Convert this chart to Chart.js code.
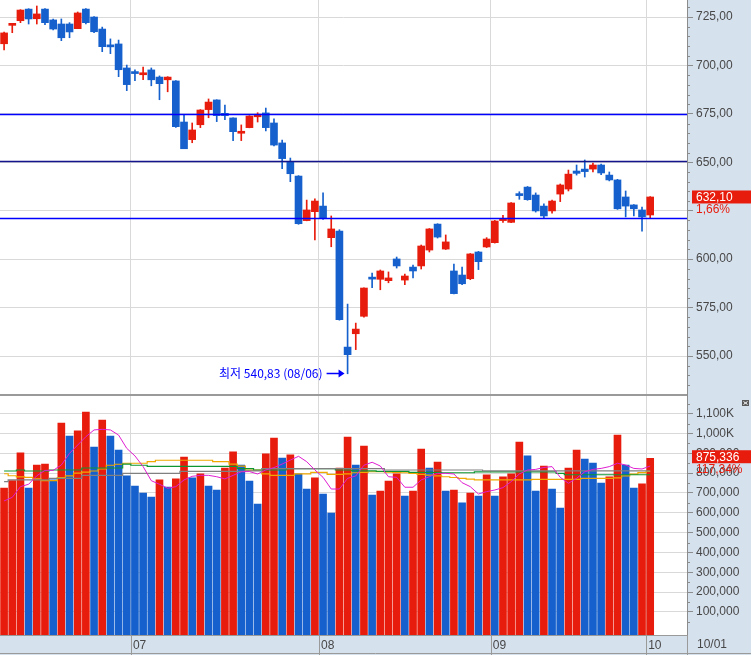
<!DOCTYPE html>
<html>
<head>
<meta charset="utf-8">
<script src="https://cdn.jsdelivr.net/npm/chart.js@4.4.1/dist/chart.umd.min.js"></script>
<style>
  html, body { margin: 0; padding: 0; background: #fff; }
  #wrap { position: relative; width: 751px; height: 655px; overflow: hidden; }
  #priceBox { position: absolute; left: 0; top: 0; width: 751px; height: 396px; }
  #volBox { position: absolute; left: 0; top: 396px; width: 751px; height: 259px; }
  canvas { display: block; }
</style>
</head>
<body>
<div id="wrap">
  <div id="priceBox"><canvas id="priceChart" width="751" height="396"></canvas></div>
  <div id="volBox"><canvas id="volChart" width="751" height="259"></canvas></div>
</div>
<script>
// daily candles, 2019-06-07 .. 2019-10-01
const dates = [
  '06/07','06/10','06/11','06/12','06/13','06/14','06/17','06/18','06/19','06/20','06/21','06/24','06/25','06/26','06/27','06/28',
  '07/01','07/02','07/03','07/04','07/05','07/08','07/09','07/10','07/11','07/12','07/15','07/16','07/17','07/18','07/19',
  '07/22','07/23','07/24','07/25','07/26','07/29','07/30','07/31',
  '08/01','08/02','08/05','08/06','08/07','08/08','08/09','08/12','08/13','08/14','08/16','08/19','08/20','08/21','08/22','08/23',
  '08/26','08/27','08/28','08/29','08/30',
  '09/02','09/03','09/04','09/05','09/06','09/09','09/10','09/11','09/16','09/17','09/18','09/19','09/20','09/23','09/24','09/25',
  '09/26','09/27','09/30',
  '10/01'
];
const opens = [
  711.2, 720.7, 723.1, 729.1, 724.1, 729.1, 723.5, 721.4, 721.4, 719.0,
  729.1, 725.0, 718.8, 710.1, 711.1, 698.7, 696.2, 695.2, 697.7, 694.0,
  692.6, 692.0, 670.8, 661.7, 669.4, 677.2, 682.2, 675.3, 672.9, 665.0,
  667.9, 673.5, 675.5, 670.3, 660.0, 650.5, 642.9, 619.9, 624.5, 627.4,
  611.1, 614.5, 554.6, 561.5, 570.5, 589.9, 589.6, 588.9, 600.1, 589.2,
  595.9, 596.5, 604.7, 618.1, 605.2, 593.9, 591.8, 589.9, 603.7, 606.3,
  608.5, 619.9, 619.0, 633.1, 637.2, 633.1, 627.4, 624.9, 633.6, 636.2,
  645.5, 646.5, 646.5, 648.6, 643.4, 640.9, 632.1, 628.0, 625.4, 622.8
];
const highs = [
  717.2, 721.4, 728.8, 729.3, 730.7, 729.3, 724.0, 724.0, 722.1, 727.6,
  729.3, 725.2, 719.8, 713.7, 713.1, 700.2, 697.7, 699.2, 698.7, 694.6,
  694.2, 692.2, 674.8, 670.3, 677.2, 682.7, 682.3, 679.6, 673.0, 669.3,
  674.1, 675.6, 678.0, 672.4, 661.5, 652.2, 643.1, 630.5, 631.1, 634.3,
  622.3, 615.2, 576.8, 567.0, 585.2, 592.8, 594.4, 593.4, 601.1, 592.3,
  597.0, 607.3, 615.8, 618.3, 612.5, 597.5, 595.9, 602.9, 604.0, 611.1,
  620.0, 622.6, 629.2, 634.8, 637.5, 634.2, 628.5, 630.5, 638.8, 646.0,
  648.6, 651.2, 649.6, 649.1, 645.0, 641.2, 635.2, 628.2, 626.9, 632.3
];
const lows = [
  708.0, 716.9, 722.1, 721.4, 721.4, 721.0, 718.3, 712.8, 714.3, 719.0,
  721.4, 716.9, 707.1, 706.1, 694.2, 687.0, 692.1, 692.6, 689.5, 682.3,
  686.4, 668.0, 657.0, 660.1, 667.9, 673.0, 671.0, 672.0, 661.2, 661.2,
  667.8, 670.8, 666.2, 658.4, 646.7, 640.0, 618.0, 619.8, 609.9, 620.5,
  606.4, 568.5, 540.83, 553.3, 570.1, 585.3, 584.2, 587.8, 595.4, 586.8,
  590.3, 594.9, 603.7, 610.9, 605.0, 582.0, 586.8, 589.4, 594.6, 606.0,
  608.3, 619.0, 618.8, 630.9, 630.4, 624.3, 621.2, 623.8, 629.7, 635.2,
  643.4, 642.4, 645.0, 643.6, 640.4, 625.7, 621.8, 622.3, 614.5, 621.2
];
const closes = [
  716.8, 721.0, 728.6, 724.0, 726.6, 722.1, 718.8, 714.3, 717.3, 727.1,
  722.1, 717.4, 709.7, 709.6, 697.8, 690.1, 695.8, 696.1, 692.6, 690.6,
  694.0, 668.4, 657.0, 666.7, 677.0, 681.1, 674.1, 674.1, 665.8, 665.2,
  673.9, 674.8, 667.9, 658.9, 651.9, 644.1, 618.3, 625.4, 630.0, 621.1,
  615.6, 568.7, 550.7, 563.9, 585.1, 589.7, 593.9, 590.3, 596.5, 591.3,
  593.9, 606.8, 615.6, 611.4, 608.9, 582.2, 587.3, 602.7, 598.7, 610.4,
  619.7, 620.1, 629.0, 632.8, 630.7, 624.9, 622.3, 630.0, 638.3, 643.9,
  644.3, 645.2, 648.6, 644.5, 640.9, 626.0, 627.4, 626.0, 621.78, 632.10
];
const volumes = [
  725000, 762000, 902000, 725000, 841000, 846000, 766000, 1053000, 987000, 1013000,
  1108000, 932000, 1068000, 987000, 917000, 786000, 735000, 700000, 680000, 766000,
  730000, 771000, 881000, 776000, 796000, 735000, 715000, 826000, 907000, 841000,
  760000, 644000, 897000, 977000, 876000, 892000, 796000, 720000, 776000, 695000,
  599000, 826000, 982000, 841000, 937000, 690000, 710000, 760000, 796000, 685000,
  710000, 922000, 826000, 856000, 710000, 715000, 650000, 700000, 685000, 791000,
  685000, 781000, 796000, 957000, 887000, 710000, 836000, 720000, 624000, 826000,
  917000, 871000, 851000, 750000, 781000, 992000, 841000, 725000, 746000, 875336
];
// volume moving averages as drawn
const volMa5 = [
  660000, 678000, 732000, 744000, 787000, 814000, 814000, 841000, 900000, 942000,
  984000, 1018000, 1021000, 1018000, 992000, 925000, 887000, 833000, 762000, 744000,
  724000, 732000, 766000, 784000, 789000, 789000, 782000, 771000, 789000, 807000,
  808000, 796000, 816000, 828000, 846000, 866000, 885000, 858000, 816000, 779000,
  720000, 720000, 774000, 786000, 840000, 855000, 836000, 782000, 779000, 729000,
  729000, 766000, 782000, 799000, 799000, 796000, 752000, 732000, 695000, 707000,
  715000, 727000, 757000, 796000, 816000, 819000, 829000, 833000, 779000, 749000,
  774000, 807000, 819000, 824000, 833000, 850000, 841000, 824000, 821000, 836000
];
const volMa20 = [
  797000, 787000, 781000, 779000, 771000, 762000, 762000, 778000, 786000, 800000,
  805000, 811000, 821000, 840000, 845000, 850000, 850000, 850000, 858000, 865000,
  865000, 865000, 865000, 865000, 865000, 865000, 858000, 858000, 846000, 835000,
  815000, 815000, 796000, 789000, 789000, 789000, 796000, 796000, 804000, 804000,
  794000, 794000, 796000, 802000, 804000, 807000, 807000, 805000, 804000, 802000,
  799000, 794000, 790000, 786000, 782000, 778000, 774000, 770000, 766000, 766000,
  766000, 766000, 766000, 766000, 766000, 769000, 769000, 769000, 769000, 769000,
  769000, 774000, 774000, 774000, 774000, 776000, 786000, 795000, 803000, 809000
];
const volMa60 = [
  811000, 811000, 816000, 811000, 811000, 811000, 816000, 816000, 816000, 816000,
  826000, 826000, 826000, 826000, 826000, 846000, 840000, 840000, 834000, 834000,
  834000, 834000, 834000, 834000, 834000, 834000, 834000, 834000, 834000, 823000,
  823000, 816000, 816000, 816000, 816000, 823000, 823000, 823000, 823000, 823000,
  823000, 816000, 816000, 812000, 812000, 812000, 809000, 809000, 809000, 809000,
  804000, 804000, 804000, 804000, 802000, 802000, 802000, 802000, 806000, 806000,
  806000, 806000, 806000, 806000, 806000, 806000, 806000, 806000, 799000, 792000,
  792000, 792000, 792000, 792000, 792000, 792000, 792000, 792000, 792000, 792000
];
const volMa120 = [
  757000, 766000, 766000, 766000, 766000, 766000, 774000, 774000, 774000, 774000,
  789000, 789000, 789000, 789000, 789000, 799000, 799000, 799000, 799000, 799000,
  799000, 799000, 809000, 809000, 809000, 809000, 809000, 809000, 809000, 809000,
  812000, 812000, 823000, 823000, 823000, 823000, 823000, 823000, 823000, 823000,
  823000, 823000, 823000, 823000, 823000, 823000, 823000, 816000, 816000, 816000,
  816000, 816000, 816000, 816000, 816000, 816000, 816000, 816000, 816000, 812000,
  812000, 812000, 812000, 812000, 812000, 812000, 812000, 812000, 812000, 812000,
  812000, 812000, 812000, 812000, 812000, 812000, 812000, 812000, 812000, 812000
];
// user drawn horizontal lines
const trendLevels = [674.8, 650.5, 621.1];
// axis ticks
const priceTicks = [550, 575, 600, 625, 650, 675, 700, 725];
const priceMinorTicks = [535, 540, 545, 555, 560, 565, 570, 580, 585, 590, 595, 605, 610, 615, 620,
  630, 635, 640, 645, 655, 660, 665, 670, 680, 685, 690, 695, 705, 710, 715, 720, 730];
const volTicks = [100000, 200000, 300000, 400000, 500000, 600000, 700000, 800000, 900000, 1000000, 1100000];
const volMinorTicks = [50000, 150000, 250000, 350000, 450000, 550000, 650000, 750000, 850000, 950000, 1050000, 1150000];

const RED = '#e81c0c';
const BLUE = '#1560cc';
const PANEL_BG = '#d6e1ee';
const GRID = '#d9d9d9';
const AXIS = '#8c8c8c';
const TEXT = '#474747';
const CLEAR = 'rgba(0,0,0,0)';
const AXIS_FONT = '"Liberation Sans", Arial, sans-serif';
const KR_FONT = '"Noto Sans CJK KR", "Noto Sans", sans-serif';
const trendColors = ['#0000ff', '#14148c', '#0000ff'];

const PRICE_MIN = 529.87;
const PRICE_MAX = 733.79;
const VOL_MIN = -16137;
const VOL_MAX = 1189107;

const slots = dates.concat(['', '', '', '']);
const candleColors = opens.map((o, i) => (closes[i] >= opens[i] ? RED : BLUE));
const volColors = volumes.map((v, i) => (i === 0 || v >= volumes[i - 1] ? RED : BLUE));

function monthStart(i) {
  return i > 0 && i < dates.length && dates[i].slice(0, 2) !== dates[i - 1].slice(0, 2);
}
function comma(v, d) {
  return Number(v).toFixed(d).replace('.', ',');
}
function volLabel(v) {
  if (v >= 1000000) return (v / 1000).toLocaleString('en-US') + 'K';
  return v.toLocaleString('en-US');
}
function monthLineX(xs, i) {
  return (xs.getPixelForValue(i - 1) + xs.getPixelForValue(i)) / 2;
}
function fixAxis(s) {
  s.width = 64;
  s.paddingTop = 0;
  s.paddingBottom = 0;
}
function drawMinorTicks(ctx, a, scale, values) {
  ctx.strokeStyle = AXIS;
  ctx.lineWidth = 1;
  values.forEach((v) => {
    const py = Math.round(scale.getPixelForValue(v)) + 0.5;
    ctx.beginPath();
    ctx.moveTo(a.right, py);
    ctx.lineTo(a.right + 3, py);
    ctx.stroke();
  });
}
function drawLastValue(ctx, a, width, py, main, sub) {
  ctx.fillStyle = RED;
  ctx.fillRect(a.right + 5, py - 6.5, width - a.right - 5, 13);
  ctx.font = '12px ' + AXIS_FONT;
  ctx.textAlign = 'left';
  ctx.textBaseline = 'middle';
  ctx.fillStyle = '#fff';
  ctx.fillText(main, a.right + 9, py + 0.5);
  ctx.fillStyle = RED;
  ctx.fillText(sub, a.right + 9, py + 13);
}

const pricePanel = {
  id: 'pricePanel',
  beforeDraw(chart) {
    const { ctx, chartArea: a, width, height } = chart;
    ctx.save();
    ctx.fillStyle = '#fff';
    ctx.fillRect(0, 0, width, height);
    ctx.fillStyle = PANEL_BG;
    ctx.fillRect(a.right, 0, width - a.right, height);
    ctx.restore();
  },
  afterDatasetsDraw(chart) {
    const { ctx, chartArea: a, scales: { x, y } } = chart;
    ctx.save();
    trendLevels.forEach((lv, k) => {
      const py = Math.round(y.getPixelForValue(lv)) + 0.5;
      ctx.strokeStyle = trendColors[k];
      ctx.lineWidth = 1.3;
      ctx.beginPath();
      ctx.moveTo(a.left, py);
      ctx.lineTo(a.right, py);
      ctx.stroke();
    });

    // lowest price marker
    let lowIdx = 0;
    lows.forEach((l, i) => { if (l < lows[lowIdx]) lowIdx = i; });
    const lx = x.getPixelForValue(lowIdx);
    const ly = Math.round(y.getPixelForValue(lows[lowIdx])) - 0.5;
    ctx.strokeStyle = '#0000ff';
    ctx.fillStyle = '#0000ff';
    ctx.lineWidth = 1.5;
    ctx.beginPath();
    ctx.moveTo(lx - 21, ly);
    ctx.lineTo(lx - 8, ly);
    ctx.stroke();
    ctx.beginPath();
    ctx.moveTo(lx - 3, ly);
    ctx.lineTo(lx - 9, ly - 4);
    ctx.lineTo(lx - 9, ly + 4);
    ctx.closePath();
    ctx.fill();
    ctx.font = '12px ' + KR_FONT;
    ctx.textAlign = 'right';
    ctx.textBaseline = 'middle';
    ctx.fillText('최저 ' + comma(lows[lowIdx], 2) + ' (' + dates[lowIdx] + ')', lx - 25, ly);

    ctx.fillStyle = '#9a9a9a';
    ctx.fillRect(a.left, a.bottom - 1, a.right - a.left, 2);
    ctx.restore();
  },
  afterDraw(chart) {
    const { ctx, chartArea: a, width, scales: { y } } = chart;
    ctx.save();
    drawMinorTicks(ctx, a, y, priceMinorTicks);
    const last = closes.length - 1;
    drawLastValue(ctx, a, width, y.getPixelForValue(closes[last]),
      comma(closes[last], 2), comma((closes[last] / closes[last - 1] - 1) * 100, 2) + '%');
    ctx.restore();
  }
};

const volPanel = {
  id: 'volPanel',
  beforeDraw(chart) {
    const { ctx, chartArea: a, width, height } = chart;
    ctx.save();
    ctx.fillStyle = '#fff';
    ctx.fillRect(0, 0, width, height);
    ctx.fillStyle = PANEL_BG;
    ctx.fillRect(a.right, 0, width - a.right, height);
    ctx.fillRect(0, a.bottom, width, height - a.bottom);
    ctx.restore();
  },
  afterDraw(chart) {
    const { ctx, chartArea: a, width, height, scales: { x, y } } = chart;
    ctx.save();
    drawMinorTicks(ctx, a, y, volMinorTicks);
    // bottom date strip
    ctx.strokeStyle = '#9a9a9a';
    ctx.beginPath();
    ctx.moveTo(0, height - 1.5);
    ctx.lineTo(width, height - 1.5);
    ctx.moveTo(Math.round(a.right) + 0.5, a.bottom);
    ctx.lineTo(Math.round(a.right) + 0.5, height);
    for (let i = 1; i < dates.length; i++) {
      if (!monthStart(i)) continue;
      const px = Math.round(monthLineX(x, i)) + 0.5;
      ctx.moveTo(px, a.bottom);
      ctx.lineTo(px, height);
    }
    ctx.stroke();
    ctx.fillStyle = TEXT;
    ctx.font = '12px ' + AXIS_FONT;
    ctx.textAlign = 'left';
    ctx.textBaseline = 'middle';
    ctx.fillText(dates[dates.length - 1], a.right + 10, (a.bottom + height) / 2);

    const last = volumes.length - 1;
    drawLastValue(ctx, a, width, y.getPixelForValue(volumes[last]) - 1.5,
      volumes[last].toLocaleString('en-US'), comma(volumes[last] / volumes[last - 1] * 100, 2) + '%');

    // small panel button
    ctx.fillStyle = '#5a5a5a';
    ctx.fillRect(width - 9, 4, 7, 6);
    ctx.strokeStyle = '#fff';
    ctx.lineWidth = 1;
    ctx.beginPath();
    ctx.moveTo(width - 7.5, 5.5);
    ctx.lineTo(width - 3.5, 8.5);
    ctx.moveTo(width - 3.5, 5.5);
    ctx.lineTo(width - 7.5, 8.5);
    ctx.stroke();
    ctx.restore();
  }
};

new Chart(document.getElementById('priceChart'), {
  type: 'bar',
  data: {
    labels: slots,
    datasets: [
      {
        label: 'wick',
        data: lows.map((l, i) => [l, highs[i]]),
        backgroundColor: candleColors,
        barThickness: 1,
        grouped: false,
        order: 2
      },
      {
        label: 'body',
        data: opens.map((o, i) => [Math.min(o, closes[i]), Math.max(o, closes[i])]),
        backgroundColor: candleColors,
        barThickness: 7,
        minBarLength: 2,
        grouped: false,
        order: 1
      }
    ]
  },
  options: {
    responsive: false,
    animation: false,
    layout: { padding: { top: 0, right: 0, bottom: 1, left: 0 } },
    plugins: { legend: { display: false }, tooltip: { enabled: false } },
    scales: {
      x: {
        offset: true,
        grid: {
          offset: true,
          drawTicks: false,
          color: (c) => (monthStart(c.index) ? GRID : CLEAR)
        },
        ticks: { display: false },
        border: { display: false },
        afterFit: (s) => { s.height = 0; }
      },
      y: {
        position: 'right',
        min: PRICE_MIN,
        max: PRICE_MAX,
        afterBuildTicks: (s) => { s.ticks = priceTicks.map((v) => ({ value: v })); },
        afterFit: fixAxis,
        ticks: {
          autoSkip: false,
          padding: 3,
          color: TEXT,
          font: { family: AXIS_FONT, size: 12 },
          // the last-price badge hides labels that sit under it
          callback: (v) => (Math.abs(v - closes[closes.length - 1]) < 10 ? '' : comma(v, 2))
        },
        grid: { tickLength: 6, color: GRID, tickColor: AXIS },
        border: { color: AXIS }
      }
    }
  },
  plugins: [pricePanel]
});

new Chart(document.getElementById('volChart'), {
  type: 'bar',
  data: {
    labels: slots,
    datasets: [
      {
        type: 'line', label: 'MA5', data: volMa5,
        borderColor: '#e01ed2', borderWidth: 1, pointRadius: 0, tension: 0, order: 0
      },
      {
        type: 'line', label: 'MA120', data: volMa120,
        borderColor: '#808080', borderWidth: 1.2, pointRadius: 0, tension: 0, stepped: 'middle', order: 1
      },
      {
        type: 'line', label: 'MA60', data: volMa60,
        borderColor: '#0f9632', borderWidth: 1.2, pointRadius: 0, tension: 0, stepped: 'middle', order: 2
      },
      {
        type: 'line', label: 'MA20', data: volMa20,
        borderColor: '#f0a800', borderWidth: 1.2, pointRadius: 0, tension: 0, stepped: 'middle', order: 3
      },
      {
        label: 'volume',
        data: volumes,
        backgroundColor: volColors,
        barThickness: 7,
        base: VOL_MIN,
        grouped: false,
        order: 10
      }
    ]
  },
  options: {
    responsive: false,
    animation: false,
    layout: { padding: 0 },
    plugins: { legend: { display: false }, tooltip: { enabled: false } },
    scales: {
      x: {
        offset: true,
        grid: {
          offset: true,
          drawTicks: false,
          color: (c) => (monthStart(c.index) ? GRID : CLEAR)
        },
        border: { color: '#9a9a9a' },
        ticks: {
          autoSkip: false,
          maxRotation: 0,
          align: 'start',
          labelOffset: -2,
          padding: 3,
          color: TEXT,
          font: { family: AXIS_FONT, size: 12 },
          callback: (v, i) => (monthStart(i) ? dates[i].slice(0, 2) : '')
        },
        afterFit: (s) => { s.height = 20; }
      },
      y: {
        position: 'right',
        min: VOL_MIN,
        max: VOL_MAX,
        afterBuildTicks: (s) => { s.ticks = volTicks.map((v) => ({ value: v })); },
        afterFit: fixAxis,
        ticks: {
          autoSkip: false,
          padding: 3,
          color: TEXT,
          font: { family: AXIS_FONT, size: 12 },
          callback: (v) => volLabel(v)
        },
        grid: { tickLength: 6, color: GRID, tickColor: AXIS },
        border: { color: AXIS }
      }
    }
  },
  plugins: [volPanel]
});
</script>
</body>
</html>
